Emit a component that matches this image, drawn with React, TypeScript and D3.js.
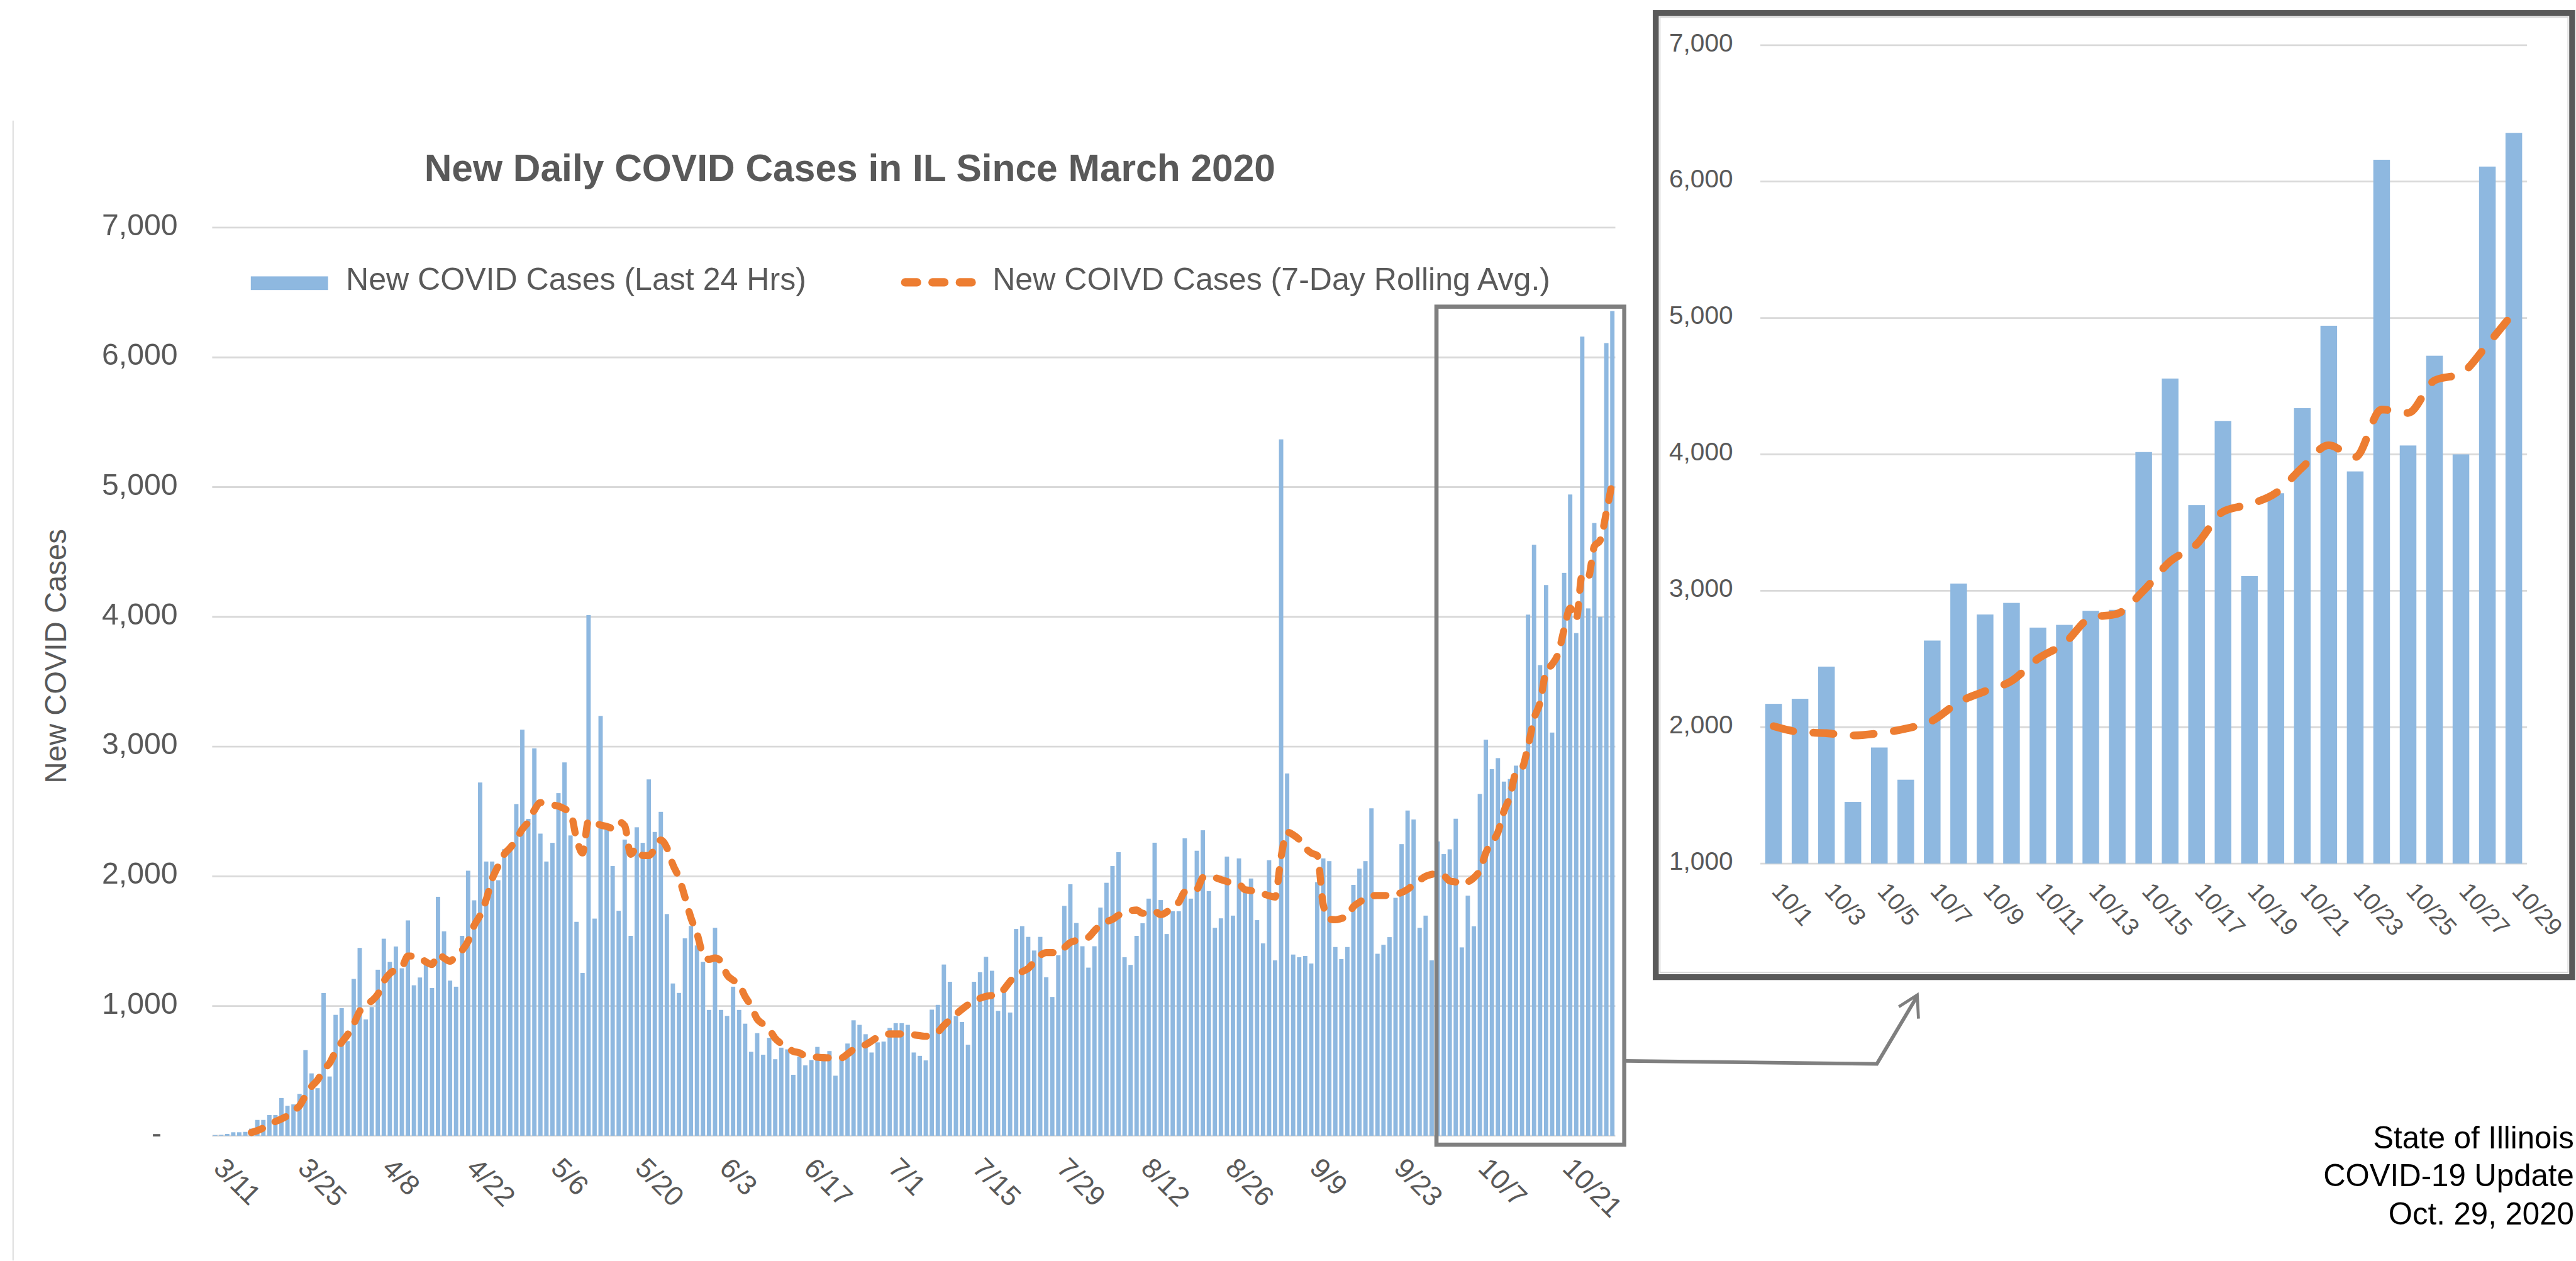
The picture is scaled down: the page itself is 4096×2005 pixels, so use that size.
import React from 'react'
import * as d3 from 'd3'

// drawn in the reference's 4333x2121 space, then scaled down to the window
const S = 0.945

const firstDay = new Date(2020, 2, 11)
const lastDayExcl = new Date(2020, 9, 30)
const dayLabels = d3.timeDay.range(firstDay, lastDayExcl).map(d3.timeFormat('%-m/%-d'))

// new cases per day, 3/11 .. 10/29
const dailyCases = [
  5, 7, 14, 27, 27, 30, 55, 122, 122, 160, 160,
  291, 231, 242, 323, 660, 481, 367, 1100, 457, 932,
  984, 730, 1209, 1448, 897, 992, 1280, 1519, 1340, 1459,
  1291, 1660, 1160, 1220, 1332, 1139, 1842, 1576, 1196, 1149,
  1541, 2043, 1815, 2723, 2114, 2114, 1970, 2209, 2215, 2557,
  3130, 2443, 2986, 2329, 2114, 2258, 2641, 2878, 2315, 1649,
  1255, 4014, 1674, 3236, 2378, 2079, 1734, 2283, 1541, 2378,
  2258, 2747, 2342, 2497, 1709, 1174, 1101, 1522, 1617, 1467,
  1340, 970, 1603, 970, 924, 1149, 970, 864, 647, 791,
  625, 755, 590, 679, 666, 470, 611, 543, 584, 685,
  629, 653, 463, 600, 711, 890, 855, 783, 642, 720,
  726, 831, 868, 868, 855, 642, 616, 581, 972, 1009,
  1320, 1187, 923, 877, 702, 1187, 1261, 1379, 1272, 963,
  1116, 950, 1594, 1616, 1533, 1428, 1533, 1222, 1070, 1391,
  1772, 1939, 1640, 1461, 1296, 1461, 1759, 1950, 2079, 2186,
  1376, 1317, 1541, 1638, 1828, 2259, 1817, 1555, 1731, 1731,
  2293, 1828, 2197, 2355, 1886, 1603, 1676, 2152, 1697, 2138,
  1886, 1983, 1662, 1483, 2124, 1352, 5368, 2793, 1397, 1376,
  1386, 1328, 1955, 2138, 2117, 1455, 1362, 1455, 1934, 2059,
  2117, 2524, 1403, 1472, 1531, 1834, 2248, 2507, 2438, 1603,
  1697, 1352, 2269,
  2171, 2208, 2444, 1452, 1851, 1615, 2635, 3053, 2826, 2911,
  2730, 2750, 2853, 2860, 4017, 4556, 3628, 4245, 3108, 3715,
  4339, 4943, 3875, 6160, 4065, 4723, 4000, 6110, 6357,
]

// 7-day rolling average as drawn (starts on 3/17)
const rollingAvg: (number | null)[] = [
  null, null, null, null, null, null,
  25, 40, 60, 85, 110, 130, 155, 195, 231, 310,
  380, 430, 510, 560, 650, 720, 780, 860, 960, 1010,
  1040, 1090, 1190, 1250, 1280, 1300, 1385, 1385, 1370, 1340,
  1320, 1400, 1370, 1345, 1390, 1430, 1500, 1620, 1700, 1820,
  1980, 2080, 2170, 2220, 2283,
  2364, 2420, 2510, 2568, 2560, 2550, 2541, 2520, 2490, 2290,
  2180, 2430, 2418, 2395, 2385, 2370, 2420, 2390, 2170, 2220,
  2160, 2160, 2210, 2280, 2220, 2090, 1990, 1840, 1680, 1560,
  1400, 1360, 1370, 1345, 1240, 1200, 1168, 1073, 1000, 900,
  860, 820, 750, 710, 680, 650, 640, 615, 608, 606,
  602, 601, 601, 601, 630, 665, 685, 702, 730, 760,
  775, 785, 785, 785, 782, 778, 772, 767, 780, 800,
  850, 895, 935, 975, 1010, 1040, 1060, 1075, 1082, 1088,
  1130, 1190, 1239, 1265, 1290, 1340, 1390, 1412, 1412, 1410,
  1450, 1490, 1505, 1515, 1530, 1580, 1625, 1650, 1668, 1700,
  1720, 1735, 1740, 1715, 1720, 1730, 1705, 1725, 1775, 1800,
  1880, 1890, 1900, 1990, 2000, 1990, 1975, 1960, 1945, 1938,
  1897, 1890, 1875, 1865, 1850, 1840, 2150, 2340, 2320, 2283,
  2220, 2180, 2160, 1780, 1670, 1665, 1675, 1690, 1766, 1800,
  1830, 1850, 1852, 1852, 1852, 1860, 1875, 1900, 1935, 1970,
  2000, 2015, 2024,
  2007, 1964, 1956, 1939, 1956, 1989, 2047, 2182, 2264, 2339,
  2502, 2614, 2802, 2832, 3002, 3215, 3340, 3580, 3634, 3717,
  3904, 4067, 3980, 4329, 4304, 4542, 4592, 4805, 5042,
]

const mainTickLabels = ['3/11', '3/25', '4/8', '4/22', '5/6', '5/20', '6/3', '6/17', '7/1', '7/15', '7/29', '8/12', '8/26', '9/9', '9/23', '10/7', '10/21']
const insetTickLabels = ['10/1', '10/3', '10/5', '10/7', '10/9', '10/11', '10/13', '10/15', '10/17', '10/19', '10/21', '10/23', '10/25', '10/27', '10/29']
const mainYTicks = [0, 1000, 2000, 3000, 4000, 5000, 6000, 7000]
const insetYTicks = [1000, 2000, 3000, 4000, 5000, 6000, 7000]

const barLabel = 'New COVID Cases (Last 24 Hrs)'
const lineLabel = 'New COIVD Cases (7-Day Rolling Avg.)'
const footer = ['State of Illinois', 'COVID-19 Update', 'Oct. 29, 2020']

const font = '"Liberation Sans", Arial, Helvetica, sans-serif'
const textGray = '#595959'
const gridGray = '#d9d9d9'
const barBlue = '#8eb8e0'
const orange = '#ed7d31'
const fmt = d3.format(',')

export default function App() {
  const idx = d3.range(dailyCases.length)

  const x = d3.scaleBand<number>().domain(idx).range([357, 2718]).paddingInner(0.28).paddingOuter(0.14)
  const y = d3.scaleLinear().domain([0, 7000]).range([1911, 383])

  const octStart = dayLabels.indexOf('10/1')
  const octIdx = idx.slice(octStart)
  const xi = d3.scaleBand<number>().domain(octIdx).range([2962, 4252]).paddingInner(0.37).paddingOuter(0.185)
  const yi = d3.scaleLinear().domain([1000, 7000]).range([1453, 76])

  const mainLine = d3.line<number>()
    .defined(i => rollingAvg[i] != null)
    .x(i => x(i)! + x.bandwidth() / 2)
    .y(i => y(rollingAvg[i] as number))
    .curve(d3.curveMonotoneX)

  const insetLine = d3.line<number>()
    .x(i => xi(i)! + xi.bandwidth() / 2)
    .y(i => yi(rollingAvg[i] as number))
    .curve(d3.curveMonotoneX)

  return (
    <svg width={4096} height={2005} style={{position: 'absolute', left: 0, top: 0, background: '#fff'}} fontFamily={font}>
      <g transform={`scale(${S})`}>
        <line x1={22} x2={22} y1={203} y2={2121} stroke={gridGray} strokeWidth={2} />

        <text x={1430} y={305} textAnchor="middle" fontSize={64} fontWeight="bold" fill={textGray}>
          New Daily COVID Cases in IL Since March 2020
        </text>

        {/* legend */}
        <rect x={422} y={465} width={130} height={23} fill={barBlue} />
        <text x={582} y={488} fontSize={53} fill={textGray}>{barLabel}</text>
        <line x1={1523} x2={1635} y1={475} y2={475} stroke={orange} strokeWidth={14} strokeLinecap="round" strokeDasharray="20 26" />
        <text x={1670} y={488} fontSize={53} fill={textGray}>{lineLabel}</text>

        {/* main chart */}
        {mainYTicks.map(t => (
          <g key={t}>
            <line x1={357} x2={2718} y1={y(t)} y2={y(t)} stroke={gridGray} strokeWidth={3} />
            <text x={t === 0 ? 272 : 299} y={y(t)} dy="0.25em" textAnchor="end" fontSize={51} fill={textGray}>
              {t === 0 ? '-' : fmt(t)}
            </text>
          </g>
        ))}
        <text transform="translate(111,1104) rotate(-90)" textAnchor="middle" fontSize={50} fill={textGray}>New COVID Cases</text>

        {idx.map(i => (
          <rect key={i} x={x(i)} y={y(dailyCases[i])} width={x.bandwidth()} height={y(0) - y(dailyCases[i])} fill={barBlue} />
        ))}
        <path d={mainLine(idx) || ''} fill="none" stroke={orange} strokeWidth={12} strokeLinecap="round" strokeDasharray="20 24" />

        {mainTickLabels.map(l => {
          const i = dayLabels.indexOf(l)
          const cx = x(i)! + x.bandwidth() / 2 - 5
          return (
            <text key={l} transform={`translate(${cx},1968) rotate(45)`} fontSize={47} fill={textGray}>{l}</text>
          )
        })}

        <rect x={2417} y={516} width={316} height={1410} fill="none" stroke="#7f7f7f" strokeWidth={7} />

        {/* arrow to the zoomed panel */}
        <polyline points="2736,1785 3158,1790 3226,1676" fill="none" stroke="#7f7f7f" strokeWidth={6} strokeLinejoin="miter" />
        <polyline points="3195,1694 3226,1674 3228,1714" fill="none" stroke="#7f7f7f" strokeWidth={5} />

        {/* inset panel */}
        <rect x={2786} y={22} width={1542} height={1622} fill="#fff" stroke={textGray} strokeWidth={10} />
        <rect x={2793} y={29} width={1528} height={1607} fill="none" stroke={gridGray} strokeWidth={2} />
        {insetYTicks.map(t => (
          <g key={t}>
            <line x1={2962} x2={4252} y1={yi(t)} y2={yi(t)} stroke={gridGray} strokeWidth={3} />
            <text x={2916} y={yi(t)} dy="0.24em" textAnchor="end" fontSize={43} fill={textGray}>{fmt(t)}</text>
          </g>
        ))}
        {octIdx.map(i => (
          <rect key={i} x={xi(i)} y={yi(dailyCases[i])} width={xi.bandwidth()} height={yi(1000) - yi(dailyCases[i])} fill={barBlue} />
        ))}
        <path d={insetLine(octIdx) || ''} fill="none" stroke={orange} strokeWidth={13} strokeLinecap="round" strokeDasharray="34 34" />
        {insetTickLabels.map(l => {
          const i = dayLabels.indexOf(l)
          const cx = xi(i)! + xi.bandwidth() / 2 - 5
          return (
            <text key={l} transform={`translate(${cx},1501) rotate(48)`} fontSize={41} fill={textGray}>{l}</text>
          )
        })}

        {footer.map((t, k) => (
          <text key={t} x={4331} y={1932 + k * 64} textAnchor="end" fontSize={52} fill="#000">{t}</text>
        ))}
      </g>
    </svg>
  )
}
